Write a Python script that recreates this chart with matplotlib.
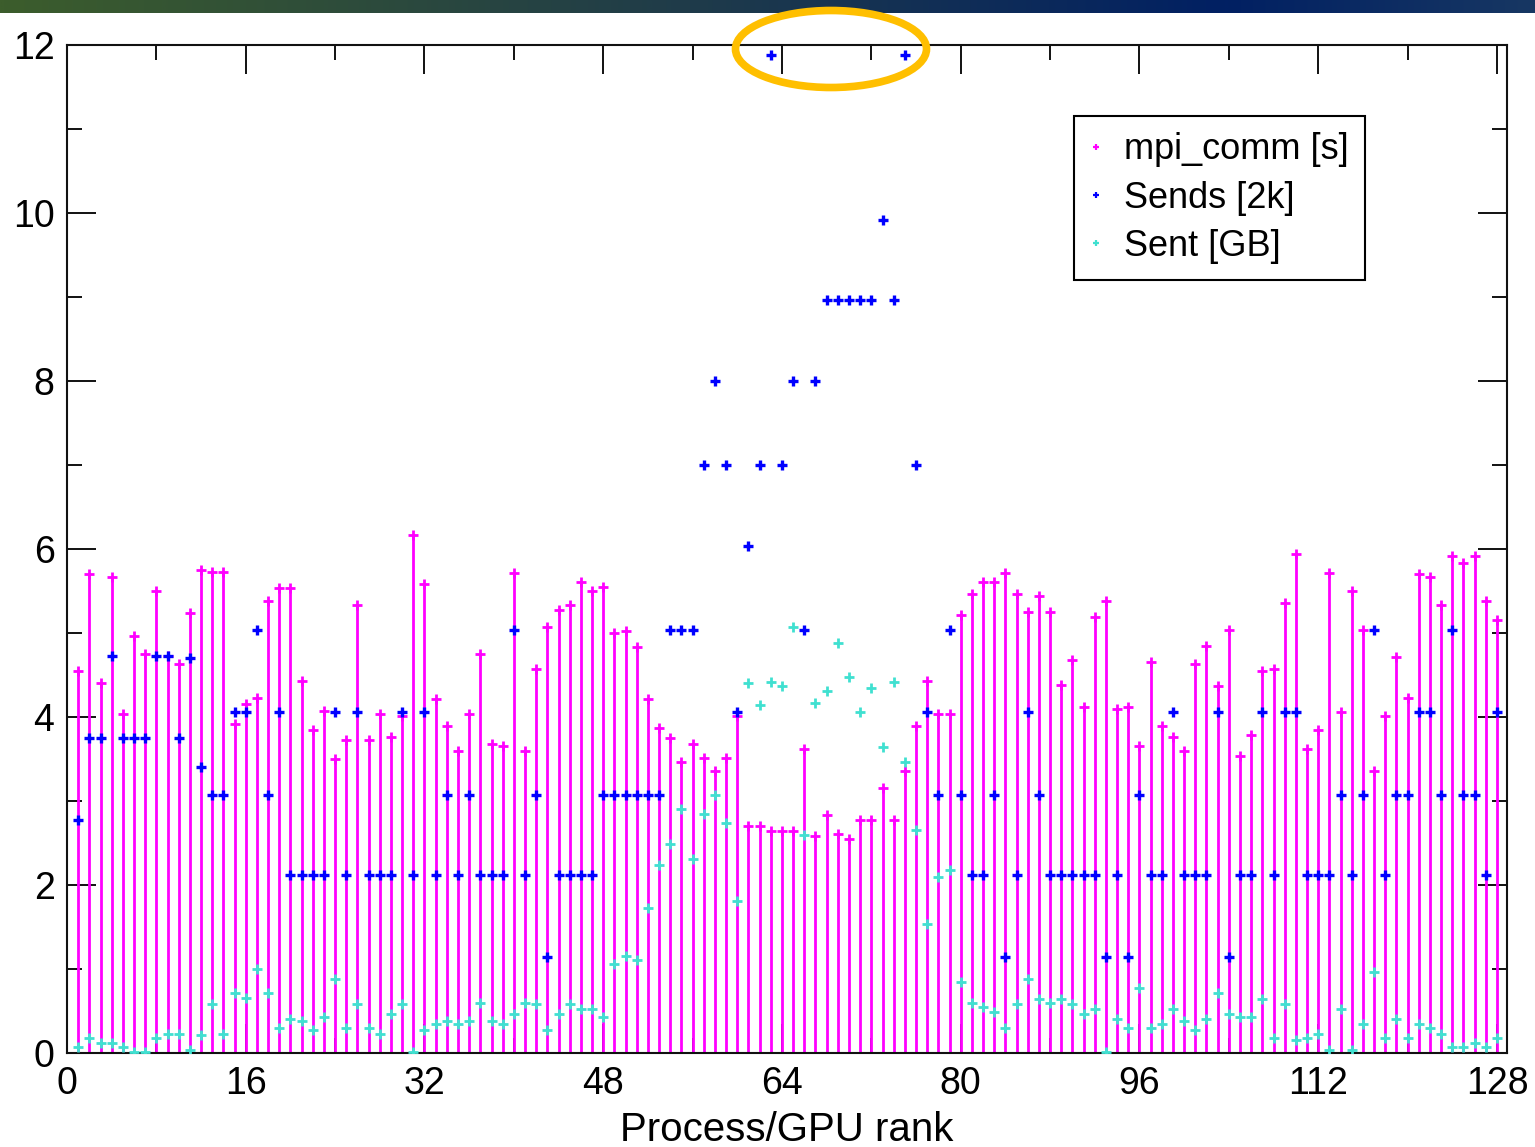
import numpy as np
import matplotlib
matplotlib.use("Agg")
import matplotlib.pyplot as plt
from matplotlib.lines import Line2D
from matplotlib.patches import Ellipse
from matplotlib.colors import LinearSegmentedColormap

plt.rcParams['font.family'] = ['Liberation Sans', 'DejaVu Sans']

ranks = np.arange(1, 129)

# seconds spent in MPI communication per rank
mpi_comm = [
    4.55, 5.70, 4.41, 5.67, 4.03, 4.96, 4.75, 5.50, 4.73, 4.63,
    5.24, 5.75, 5.73, 5.73, 3.92, 4.15, 4.23, 5.38, 5.53, 5.53,
    4.43, 3.85, 4.07, 3.50, 3.73, 5.33, 3.73, 4.03, 3.76, 4.01,
    6.17, 5.58, 4.21, 3.89, 3.59, 4.03, 4.75, 3.68, 3.65, 5.72,
    3.59, 4.57, 5.07, 5.27, 5.33, 5.61, 5.50, 5.55, 5.00, 5.02,
    4.83, 4.21, 3.87, 3.75, 3.47, 3.68, 3.51, 3.36, 3.51, 4.01,
    2.70, 2.70, 2.64, 2.64, 2.64, 3.62, 2.58, 2.83, 2.61, 2.55,
    2.77, 2.77, 3.16, 2.77, 3.36, 3.89, 4.43, 4.03, 4.03, 5.21,
    5.47, 5.61, 5.61, 5.72, 5.47, 5.25, 5.44, 5.25, 4.38, 4.68,
    4.12, 5.19, 5.38, 4.10, 4.12, 3.65, 4.66, 3.89, 3.76, 3.59,
    4.63, 4.85, 4.37, 5.04, 3.53, 3.78, 4.55, 4.57, 5.36, 5.94,
    3.62, 3.84, 5.72, 4.06, 5.50, 5.04, 3.36, 4.01, 4.71, 4.23,
    5.70, 5.67, 5.33, 5.92, 5.83, 5.92, 5.38, 5.16,
]

# number of sends, in units of 2000
sends = [
    2.77, 3.75, 3.75, 4.73, 3.75, 3.75, 3.75, 4.73, 4.73, 3.75,
    4.70, 3.41, 3.07, 3.07, 4.06, 4.06, 5.04, 3.07, 4.06, 2.12,
    2.12, 2.12, 2.12, 4.06, 2.12, 4.06, 2.12, 2.12, 2.12, 4.06,
    2.12, 4.06, 2.12, 3.07, 2.12, 3.07, 2.12, 2.12, 2.12, 5.04,
    2.12, 3.07, 1.14, 2.12, 2.12, 2.12, 2.12, 3.07, 3.07, 3.07,
    3.07, 3.07, 3.07, 5.04, 5.04, 5.04, 7.00, 8.00, 7.00, 4.06,
    6.03, 7.00, 11.88, 7.00, 8.00, 5.04, 8.00, 8.97, 8.97, 8.97,
    8.97, 8.97, 9.92, 8.97, 11.88, 7.00, 4.06, 3.07, 5.04, 3.07,
    2.12, 2.12, 3.07, 1.14, 2.12, 4.06, 3.07, 2.12, 2.12, 2.12,
    2.12, 2.12, 1.14, 2.12, 1.14, 3.07, 2.12, 2.12, 4.06, 2.12,
    2.12, 2.12, 4.06, 1.14, 2.12, 2.12, 4.06, 2.12, 4.06, 4.06,
    2.12, 2.12, 2.12, 3.07, 2.12, 3.07, 5.04, 2.12, 3.07, 3.07,
    4.06, 4.06, 3.07, 5.04, 3.07, 3.07, 2.12, 4.06,
]

# data volume sent, GB
sent = [
    0.07, 0.18, 0.12, 0.12, 0.07, 0.01, 0.01, 0.18, 0.23, 0.23,
    0.04, 0.21, 0.58, 0.23, 0.72, 0.66, 1.00, 0.72, 0.30, 0.41,
    0.38, 0.27, 0.43, 0.88, 0.30, 0.58, 0.30, 0.23, 0.46, 0.58,
    0.01, 0.27, 0.35, 0.38, 0.35, 0.38, 0.60, 0.38, 0.35, 0.46,
    0.60, 0.58, 0.27, 0.46, 0.58, 0.52, 0.52, 0.43, 1.06, 1.16,
    1.11, 1.73, 2.24, 2.49, 2.90, 2.31, 2.85, 3.07, 2.74, 1.81,
    4.40, 4.14, 4.42, 4.37, 5.07, 2.60, 4.17, 4.31, 4.88, 4.48,
    4.06, 4.34, 3.64, 4.42, 3.47, 2.66, 1.53, 2.10, 2.18, 0.85,
    0.60, 0.55, 0.49, 0.30, 0.58, 0.88, 0.64, 0.60, 0.64, 0.58,
    0.46, 0.52, 0.01, 0.41, 0.30, 0.77, 0.30, 0.35, 0.52, 0.38,
    0.27, 0.41, 0.72, 0.46, 0.43, 0.43, 0.64, 0.18, 0.58, 0.15,
    0.18, 0.23, 0.04, 0.52, 0.04, 0.35, 0.97, 0.18, 0.41, 0.18,
    0.35, 0.30, 0.23, 0.07, 0.07, 0.12, 0.07, 0.18,
]

labels = ['mpi_comm [s]', 'Sends [2k]', 'Sent [GB]']
colors = ['#ff00ff', '#0000ff', '#40e0d0']

W, H = 1535, 1147
fig = plt.figure(figsize=(W / 100, H / 100), dpi=100)
ax = fig.add_axes([67 / W, 1 - 1053 / H, 1440 / W, 1008 / H])

# impulses for the communication time, crosses for everything
ax.vlines(ranks, 0, mpi_comm, colors=colors[0], lw=2.0, zorder=2)
ax.plot(ranks, mpi_comm, '+', color=colors[0], ms=7, mew=2.0, zorder=3)
ax.plot(ranks, sends, '+', color=colors[1], ms=7.5, mew=2.4, zorder=4)
ax.plot(ranks, sent, '+', color=colors[2], ms=7, mew=2.0, zorder=5)

ax.set_xlim(0, 128.9)
ax.set_ylim(0, 12)
ax.set_xticks(np.arange(0, 129, 16))
ax.set_xticks(np.arange(8, 129, 16), minor=True)
ax.set_yticks(np.arange(0, 13, 2))
ax.set_yticks(np.arange(1, 12, 2), minor=True)
ax.tick_params(which='both', direction='in', top=True, right=True,
               width=1.4, color='#111111', labelsize=27)
ax.tick_params(which='major', length=21, pad=9)
ax.tick_params(which='minor', length=10.5)
for s in ax.spines.values():
    s.set_linewidth(1.5)
    s.set_color('#111111')

ax.set_xlabel('Process/GPU rank', fontsize=29, labelpad=7)

handles = [Line2D([], [], ls='none', marker='+', color=c, ms=5, mew=1.6)
           for c in colors]
leg = ax.legend(handles, labels, loc='upper left',
                bbox_to_anchor=(0.699, 0.9296), borderaxespad=0,
                fontsize=26, fancybox=False, framealpha=1,
                edgecolor='black', handlelength=0.32, handletextpad=0.62,
                borderpad=0.45, labelspacing=0.37)
leg.get_frame().set_linewidth(1.5)

# slide header strip
band = fig.add_axes([0, 1 - 13 / H, 1, 13 / H])
cmap = LinearSegmentedColormap.from_list(
    'band', [(0.0, '#3c5d2c'), (0.45, '#1f3b4a'), (0.8, '#012063'), (1.0, '#173762')])
band.imshow(np.linspace(0, 1, 512)[None, :], aspect='auto', cmap=cmap)
band.set_axis_off()

# highlight around the top outliers
fig.patches.append(Ellipse((831 / W, 1 - 49 / H), 191 / W, 77 / H,
                           transform=fig.transFigure, fill=False,
                           edgecolor='#ffbf00', lw=5.5, zorder=10))

fig.savefig('out.png', dpi=100)
